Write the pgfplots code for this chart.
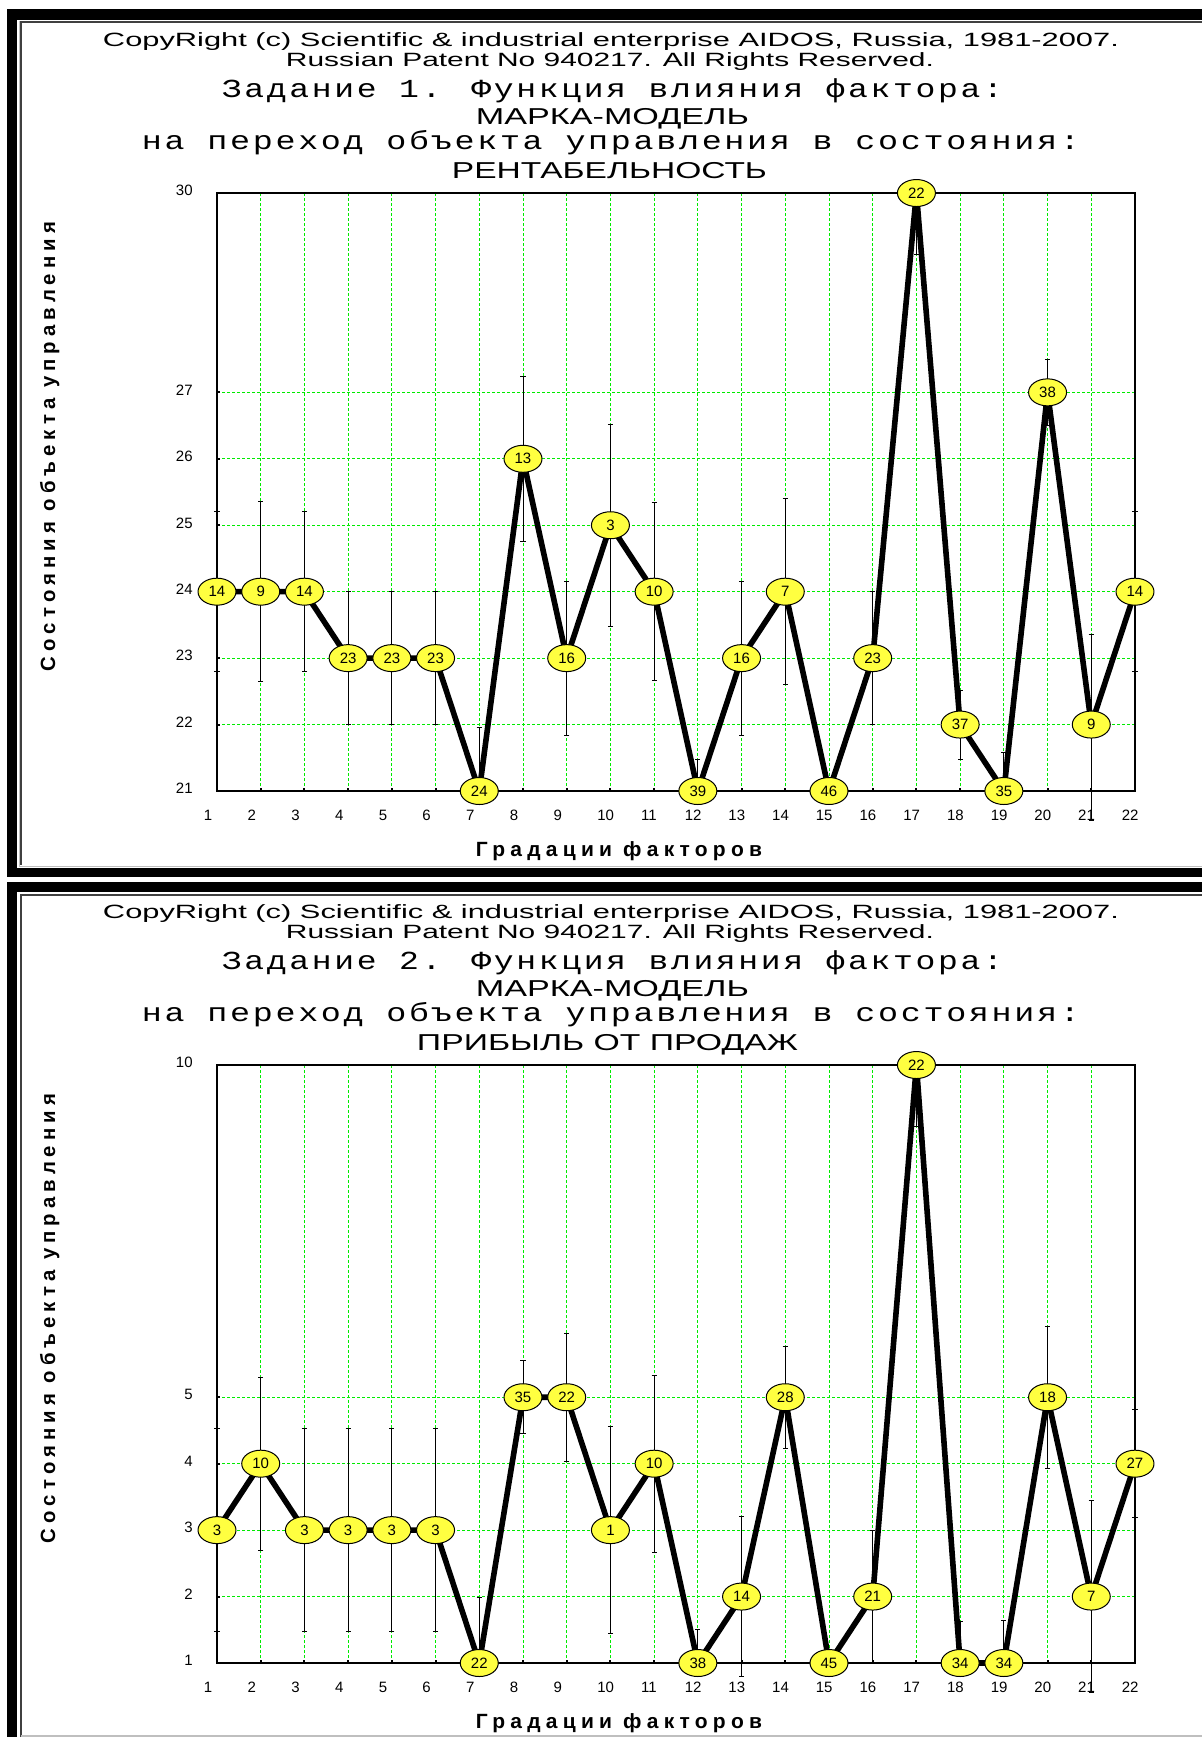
\documentclass[border=0pt]{standalone}
\usepackage{pgfplots}
\pgfplotsset{compat=1.18}
\usepackage{pgfplotstable}
\usepackage{fontspec}
\usepackage{graphicx}
\usetikzlibrary{shapes.geometric}
\setmainfont{Liberation Sans}
\newfontfamily\monof[LetterSpace=8]{Liberation Mono}
\newfontfamily\labf[LetterSpace=25]{Liberation Sans}
\definecolor{aidosyellow}{RGB}{255,255,64}
\definecolor{gridgreen}{RGB}{0,235,0}
\newcommand\fitw[2]{\resizebox{#1}{\height}{#2}}
\newcommand\tickf{\fontsize{7.5}{8}\selectfont}
\newcommand\markf{\fontsize{7.5}{8}\selectfont}

\pgfplotstableread{
x y ep em lab
1 24 1.2 1.2 14
2 24 1.35 1.35 9
3 24 1.2 1.2 14
4 23 1 1 23
5 23 1 1 23
6 23 1 1 23
7 21 0.95 0 24
8 26 1.24 1.24 13
9 23 1.16 1.16 16
10 25 1.52 1.52 3
11 24 1.34 1.34 10
12 21 0.48 0 39
13 23 1.16 1.16 16
14 24 1.4 1.4 7
15 21 0 0 46
16 23 1 1 23
17 30 0 0.93 22
18 22 0.52 0.52 37
19 21 0.58 0 35
20 27 0.5 0.5 38
21 22 1.36 1.44 9
22 24 1.2 1.2 14
}\dataA

\pgfplotstableread{
x y ep em lab
1 3 1.53 1.53 3
2 4 1.3 1.3 10
3 3 1.53 1.53 3
4 3 1.53 1.53 3
5 3 1.53 1.53 3
6 3 1.53 1.53 3
7 1 0.99 0 22
8 5 0.55 0.55 35
9 5 0.96 0.96 22
10 3 1.56 1.56 1
11 4 1.33 1.33 10
12 1 0.5 0 38
13 2 1.2 1.2 14
14 5 0.77 0.77 28
15 1 0 0 45
16 2 1 1 21
17 10 0 0.93 22
18 1 0.62 0 34
19 1 0.64 0 34
20 5 1.07 1.07 18
21 2 1.45 1.45 7
22 4 0.81 0.81 27
}\dataB

\pgfplotsset{
 aidos/.style={
  scale only axis, width=459pt, height=299pt, anchor=south west,
  xmin=1, xmax=22, xtick={1,...,22},
  grid=major,
  major grid style={gridgreen, dash pattern=on 1.5pt off 1pt, line width=0.5pt},
  axis line style={black, line width=1pt},
  tick style={black, line width=1pt}, major tick length=1.5pt, tick align=inside,
  xtick pos=left, ytick pos=left,
  ticklabel style={font=\tickf, inner sep=0pt},
  /pgf/number format/assume math mode=true,
  xticklabel style={anchor=north west, xshift=-6.75pt, yshift=-9.25pt},
  yticklabel style={anchor=east, xshift=-12pt, yshift=1.2pt},
  clip=false,
 },
 aidosline/.style={
  black, line width=2.8pt, line join=round, mark=none,
  point meta=explicit symbolic,
  nodes near coords={\pgfplotspointmeta},
  every node near coord/.append style={ellipse, draw=black, line width=0.5pt,
    fill=aidosyellow, minimum width=19pt, minimum height=13.5pt, inner sep=0pt,
    anchor=center, font=\markf, text=black},
  error bars/.cd, y dir=both, y explicit,
  error bar style={line width=0.5pt, black, solid},
  error mark options={rotate=90, mark size=1.3pt, line width=0.5pt, black},
 },
}

\begin{document}
\begin{tikzpicture}
\begin{scope}[x=0.5pt,y=-0.5pt]
 \path[use as bounding box] (0,0) rectangle (1202,1737);
 \fill[white] (0,0) rectangle (1202,1737);
 % frame panel 1
 \fill[black] (7,9) rectangle (1202,19.5);
 \fill[black] (7,9) rectangle (17,877);
 \fill[black] (7,868) rectangle (1202,877);
 \draw[gray!50, line width=0.5pt] (19,20.5) -- (19,866.5) -- (1202,866.5);
 \draw[black!75, line width=1pt] (21,864.5) -- (21,22) -- (1202,22);
 % frame panel 2
 \fill[black] (7,882) rectangle (1202,892);
 \fill[black] (7,882) rectangle (17,1737);
 \draw[black!75, line width=1pt] (21,1737) -- (21,895) -- (1202,895);
 \draw[gray!50, line width=1pt] (21,1735.5) -- (1202,1735.5);
 % texts panel 1
 \node[anchor=base, inner sep=0pt] at (611,46) {\fontsize{9.6}{11}\selectfont\fitw{508pt}{CopyRight (c) Scientific \& industrial enterprise AIDOS, Russia, 1981-2007.}};
 \node[anchor=base, inner sep=0pt] at (610,66.7) {\fontsize{9.6}{11}\selectfont\fitw{324pt}{Russian Patent No 940217. All Rights Reserved.}};
 \node[anchor=base, inner sep=0pt] at (612.5,97) {\monof\fontsize{13}{15}\selectfont\fitw{390.5pt}{Задание 1. Функция влияния фактора:}};
 \node[anchor=base, inner sep=0pt] at (612.5,124) {\fontsize{11.5}{13}\selectfont\fitw{136.5pt}{МАРКА-МОДЕЛЬ}};
 \node[anchor=base, inner sep=0pt] at (611,149.5) {\monof\fontsize{13}{15}\selectfont\fitw{469pt}{на переход объекта управления в состояния:}};
 \node[anchor=base, inner sep=0pt] at (609.5,178.5) {\fontsize{11.5}{13}\selectfont\fitw{157.5pt}{РЕНТАБЕЛЬНОСТЬ}};
 \node[anchor=base, inner sep=0pt, rotate=90] at (55,446.5) {\labf\bfseries\fontsize{10.3}{12}\selectfont\fitw{224.5pt}{Состояния объекта управления}};
 \node[anchor=base, inner sep=0pt] at (619,856.5) {\labf\bfseries\fontsize{10.3}{12}\selectfont\fitw{143pt}{Градации факторов}};
 % texts panel 2
 \node[anchor=base, inner sep=0pt] at (611,918) {\fontsize{9.6}{11}\selectfont\fitw{508pt}{CopyRight (c) Scientific \& industrial enterprise AIDOS, Russia, 1981-2007.}};
 \node[anchor=base, inner sep=0pt] at (610,938.7) {\fontsize{9.6}{11}\selectfont\fitw{324pt}{Russian Patent No 940217. All Rights Reserved.}};
 \node[anchor=base, inner sep=0pt] at (612.5,969) {\monof\fontsize{13}{15}\selectfont\fitw{390.5pt}{Задание 2. Функция влияния фактора:}};
 \node[anchor=base, inner sep=0pt] at (612.5,996) {\fontsize{11.5}{13}\selectfont\fitw{136.5pt}{МАРКА-МОДЕЛЬ}};
 \node[anchor=base, inner sep=0pt] at (611,1021.5) {\monof\fontsize{13}{15}\selectfont\fitw{469pt}{на переход объекта управления в состояния:}};
 \node[anchor=base, inner sep=0pt] at (607.5,1050.5) {\fontsize{11.5}{13}\selectfont\fitw{190.5pt}{ПРИБЫЛЬ ОТ ПРОДАЖ}};
 \node[anchor=base, inner sep=0pt, rotate=90] at (55,1318.5) {\labf\bfseries\fontsize{10.3}{12}\selectfont\fitw{224.5pt}{Состояния объекта управления}};
 \node[anchor=base, inner sep=0pt] at (619,1728.5) {\labf\bfseries\fontsize{10.3}{12}\selectfont\fitw{143pt}{Градации факторов}};
\end{scope}

\begin{axis}[aidos, at={(108.5pt,-395.5pt)},
  ymin=21, ymax=30, ytick={21,22,23,24,25,26,27,30}]
 \addplot[aidosline] table[x=x, y=y, y error plus=ep, y error minus=em, meta=lab] {\dataA};
\end{axis}

\begin{axis}[aidos, at={(108.5pt,-831.5pt)},
  ymin=1, ymax=10, ytick={1,2,3,4,5,10}]
 \addplot[aidosline] table[x=x, y=y, y error plus=ep, y error minus=em, meta=lab] {\dataB};
\end{axis}
\end{tikzpicture}
\end{document}
